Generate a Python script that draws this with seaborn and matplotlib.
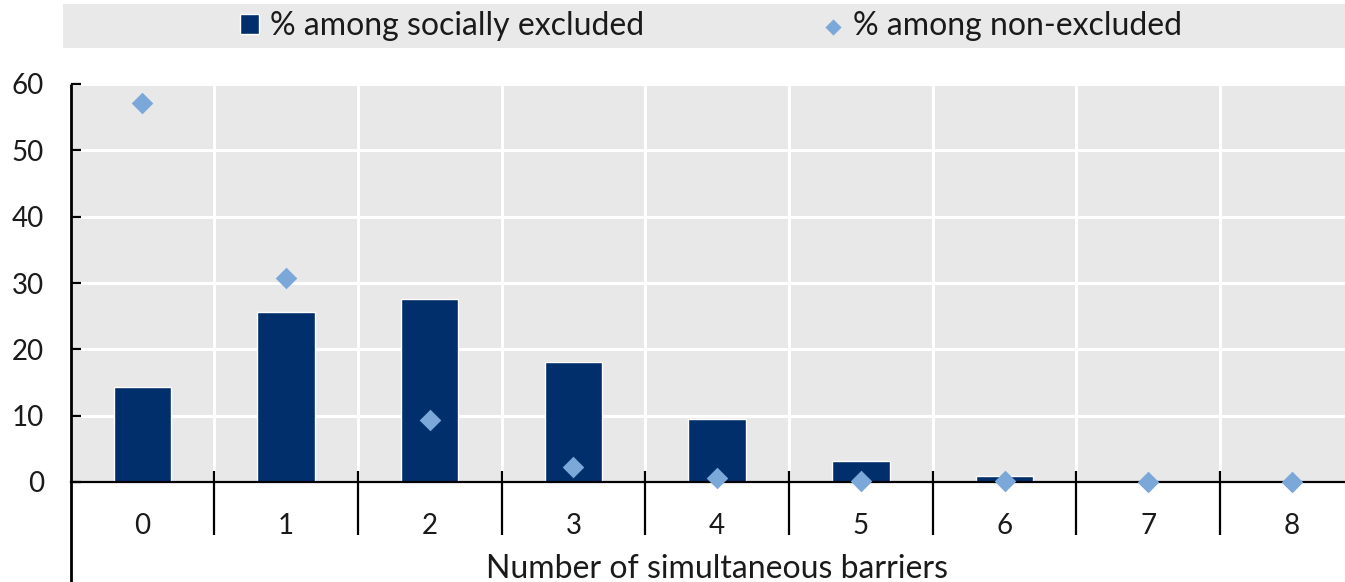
import matplotlib
matplotlib.use("Agg")
import matplotlib.pyplot as plt
from matplotlib.patches import Rectangle
import seaborn as sns

# Share of people facing a given number of simultaneous barriers
barriers = ["0", "1", "2", "3", "4", "5", "6", "7", "8"]
socially_excluded = [14.3, 25.6, 27.6, 18.1, 9.5, 3.1, 0.95, 0.0, 0.0]
non_excluded = [57.2, 30.8, 9.3, 2.3, 0.6, 0.15, 0.1, 0.05, 0.05]
y_ticks = [0, 10, 20, 30, 40, 50, 60]
series_names = ["% among socially excluded", "% among non-excluded"]

NAVY = "#002F6C"
LIGHT_BLUE = "#7BA7D9"
PANEL = "#E8E8E8"

sns.set_theme(style="white")
plt.rcParams["font.family"] = ["Lato", "DejaVu Sans"]
plt.rcParams["text.color"] = "#1a1a1a"

fig = plt.figure(figsize=(13.45, 5.82), dpi=100)
W, H = 1345, 582
ax = fig.add_axes([70.5 / W, 1 - 482 / H, 1293.3 / W, 398 / H])
ax.set_facecolor(PANEL)

sns.barplot(x=barriers, y=socially_excluded, order=barriers, color=NAVY,
            width=0.4, saturation=1, ax=ax, label=series_names[0], zorder=3)
sns.stripplot(x=barriers, y=non_excluded, order=barriers, color=LIGHT_BLUE,
              marker="D", size=11, jitter=False, ax=ax, label=series_names[1],
              zorder=6, clip_on=False, linewidth=0)

ax.set_xlim(-0.5, 8.5)
ax.set_ylim(0, 60)
ax.set_yticks(y_ticks)
ax.set_yticklabels([str(v) for v in y_ticks])

# Grid: white lines between categories and at every 10 units
ax.set_xticks([i + 0.5 for i in range(8)], minor=True)
ax.grid(False)
ax.xaxis.grid(True, which="minor", color="white", linewidth=2.2)
ax.yaxis.grid(True, which="major", color="white", linewidth=2.2)
ax.set_axisbelow(True)

ax.tick_params(axis="x", which="both", length=0, labelsize=20, pad=22,
               labelcolor="#1a1a1a")
ax.tick_params(axis="y", which="major", direction="in", length=7.5, width=1.6,
               color="black", labelsize=20, pad=19, labelcolor="#1a1a1a",
               left=True)

for side in ("top", "right", "left"):
    ax.spines[side].set_visible(False)
ax.spines["bottom"].set_color("black")
ax.spines["bottom"].set_linewidth(1.6)
ax.spines["bottom"].set_zorder(4)

# Left axis line runs down past the category labels
ax.plot([0, 0], [-0.26, 1.0], transform=ax.transAxes, color="black",
        linewidth=2.0, clip_on=False, zorder=5, solid_capstyle="butt")
# Category separators crossing the baseline
ax.vlines([i + 0.5 for i in range(9)], -53 / 398, 11 / 398,
          transform=ax.get_xaxis_transform(), color="black", linewidth=1.6,
          clip_on=False, zorder=5)

ax.set_xlabel("Number of simultaneous barriers", fontsize=23, color="#1a1a1a")
ax.xaxis.set_label_coords(0.5, -0.18)
ax.xaxis.label.set_va("top")
ax.set_ylabel("")

# Legend band across the top
fig.patches.append(Rectangle((63 / W, 1 - 48 / H), 1 - 63 / W, 44 / H,
                             transform=fig.transFigure, facecolor="#E9E9E9",
                             edgecolor="none", zorder=0))
handles, labels = ax.get_legend_handles_labels()
if ax.get_legend() is not None:
    ax.get_legend().remove()
picked = {}
for h, l in zip(handles, labels):
    picked.setdefault(l, h)
fig.legend([picked[n] for n in series_names], series_names, loc="center",
           bbox_to_anchor=(711 / W, 1 - 26 / H), ncol=2, frameon=False,
           fontsize=23, handlelength=0.6, handleheight=0.6, markerscale=0.75,
           handletextpad=0.35, columnspacing=5.6)

fig.savefig("out.png", dpi=100)
